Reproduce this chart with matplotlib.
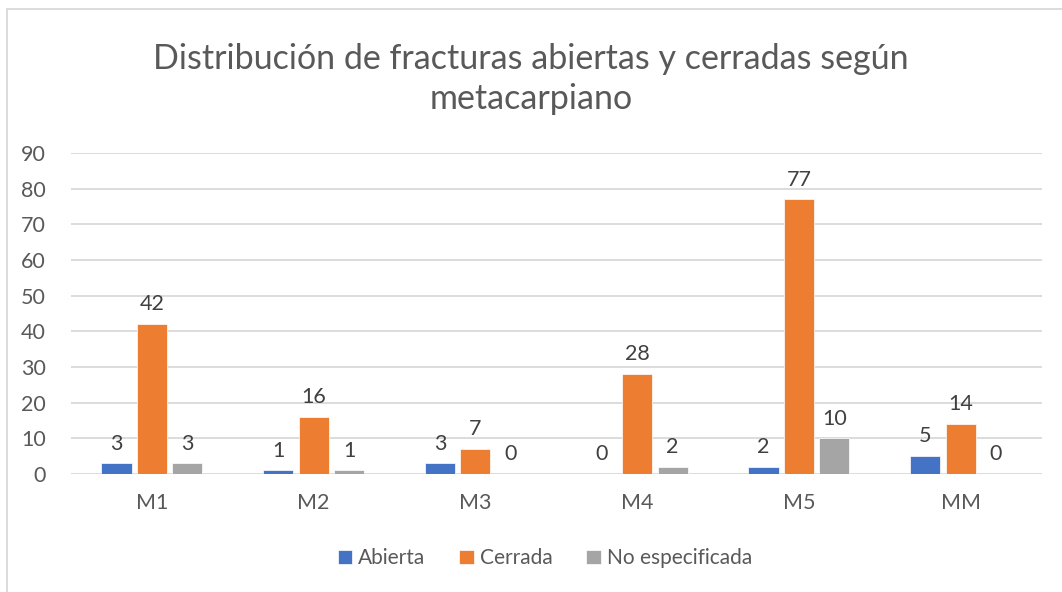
import numpy as np
import matplotlib.pyplot as plt
from matplotlib.patches import Rectangle

plt.rcParams['font.family'] = ['Lato', 'DejaVu Sans']

categories = ["M1", "M2", "M3", "M4", "M5", "MM"]
abierta = [3, 1, 3, 0, 2, 5]
cerrada = [42, 16, 7, 28, 77, 14]
no_especificada = [3, 1, 0, 2, 10, 0]

series = [
    ("Abierta", abierta, "#4472C4"),
    ("Cerrada", cerrada, "#ED7D31"),
    ("No especificada", no_especificada, "#A5A5A5"),
]

fig = plt.figure(figsize=(10.62, 5.92), dpi=100)
ax = fig.add_axes([0.0669, 0.1993, 0.9138, 0.5423])

# chart border like the spreadsheet frame
fig.patches.append(Rectangle((7 / 1062, -0.1), 1.2, (592 - 9) / 592 + 0.1,
                             transform=fig.transFigure, fill=False,
                             edgecolor="#D9D9D9", linewidth=1.3))

x = np.arange(len(categories))
width = 0.186
step = 0.219
for i, (name, vals, color) in enumerate(series):
    pos = x + (i - 1) * step
    bars = ax.bar(pos, vals, width=width, color=color, label=name,
                  edgecolor="white", linewidth=0.5, zorder=3)
    for b, v in zip(bars, vals):
        ax.annotate(str(v), (b.get_x() + b.get_width() / 2, v),
                    xytext=(0, 7), textcoords="offset points",
                    ha="center", va="bottom", fontsize=15.5, color="#404040")

ax.set_xlim(-0.5, len(categories) - 0.5)
ax.set_ylim(0, 90)
ax.set_yticks(range(0, 91, 10))
ax.set_xticks(x)
ax.set_xticklabels(categories)
ax.tick_params(axis="both", length=0, labelsize=15.5, colors="#595959")
ax.tick_params(axis="x", pad=14)
ax.tick_params(axis="y", pad=18)
ax.grid(axis="y", color="#D9D9D9", linewidth=1.3, zorder=0)
for s in ["top", "right", "left", "bottom"]:
    ax.spines[s].set_visible(False)

fig.text(0.5, 0.867, "Distribución de fracturas abiertas y cerradas según\nmetacarpiano",
         ha="center", va="center", fontsize=24.5, color="#595959", linespacing=1.3)

fig.legend(loc="center", bbox_to_anchor=(0.513, 0.057), ncol=3, frameon=False,
           fontsize=15, handlelength=0.7, handleheight=0.7, handletextpad=0.3,
           columnspacing=1.6, labelcolor="#595959")

fig.savefig("out.png", dpi=100)
